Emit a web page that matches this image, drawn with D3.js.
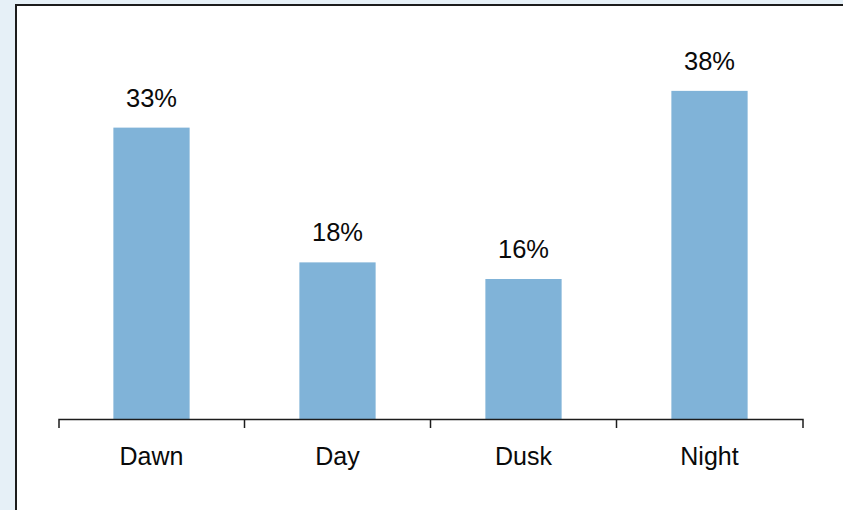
<!DOCTYPE html>
<html>
<head>
<meta charset="utf-8">
<script src="https://cdn.jsdelivr.net/npm/d3@7"></script>
<style>
  html, body { margin: 0; padding: 0; background: #e6f0f7; }
  svg { display: block; }
</style>
</head>
<body>
<svg id="chart" width="843" height="510"></svg>
<script>
// data (labels are the rounded values)
var periods = ["Dawn", "Day", "Dusk", "Night"];
var shares = [33.3, 17.9, 16.0, 37.5];

var svg = d3.select("#chart");

// white panel with a dark frame, running off the right and bottom edges
svg.append("rect")
    .attr("x", 16)
    .attr("y", 5)
    .attr("width", 900)
    .attr("height", 600)
    .attr("fill", "#ffffff")
    .attr("stroke", "#1c1c1c")
    .attr("stroke-width", 2);

var baseY = 419;

var x = d3.scaleBand()
    .domain(periods)
    .range([58.5, 802.5])
    .paddingInner(0)
    .paddingOuter(0);

var y = d3.scaleLinear()
    .domain([0, 40])
    .range([baseY, baseY - 350]);

var barW = x.bandwidth() * 0.41;

//Bars
svg.selectAll("rect.bar")
    .data(periods)
    .enter().append("rect")
    .attr("class", "bar")
    .attr("x", function (d) { return x(d) + (x.bandwidth() - barW) / 2; })
    .attr("y", function (d, i) { return y(shares[i]); })
    .attr("width", barW)
    .attr("height", function (d, i) { return baseY - y(shares[i]); })
    .attr("fill", "#80b3d8");

//Value labels above bars
svg.selectAll("text.value")
    .data(periods)
    .enter().append("text")
    .attr("class", "value")
    .attr("x", function (d) { return x(d) + x.bandwidth() / 2; })
    .attr("y", function (d, i) { return y(shares[i]) - 21; })
    .attr("text-anchor", "middle")
    .style("font-family", "'Liberation Sans', Arial, sans-serif")
    .style("font-size", "25.5px")
    .style("fill", "#0a0a0a")
    .text(function (d, i) { return Math.round(shares[i]) + "%"; });

//Axis: labels at band centres, ticks at band edges
var axis = svg.append("g")
    .attr("transform", "translate(0," + baseY + ")")
    .call(d3.axisBottom(x).tickSize(0).tickSizeOuter(9).tickPadding(0));

axis.select(".domain")
    .attr("stroke", "#1c1c1c")
    .attr("stroke-width", 1.5);

axis.selectAll(".tick text")
    .attr("y", 46)
    .attr("dy", 0)
    .style("font-family", "'Liberation Sans', Arial, sans-serif")
    .style("font-size", "25px")
    .style("fill", "#0a0a0a");

axis.selectAll("line.edge")
    .data(periods.slice(1))
    .enter().append("line")
    .attr("class", "edge")
    .attr("x1", function (d) { return x(d); })
    .attr("x2", function (d) { return x(d); })
    .attr("y1", 0)
    .attr("y2", 9)
    .attr("stroke", "#1c1c1c")
    .attr("stroke-width", 1.5);
</script>
</body>
</html>
